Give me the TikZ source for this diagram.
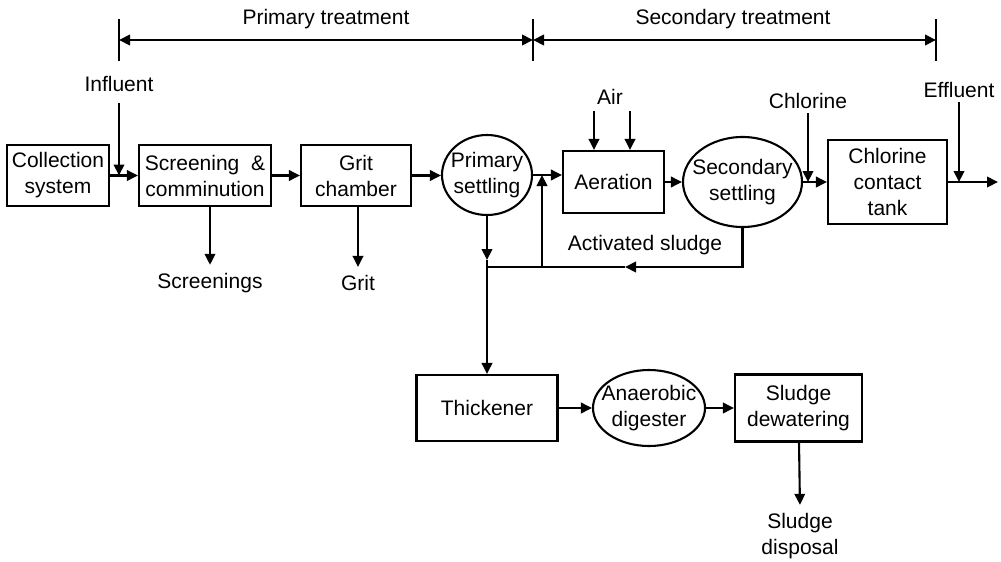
\documentclass[tikz,border=0pt]{standalone}
\usepackage{fontspec}
\setmainfont{Liberation Sans}
\usetikzlibrary{arrows.meta,shapes.geometric}
\begin{document}
\begin{tikzpicture}[x=1pt, y=-1pt, line width=2.1pt, >={Triangle[length=11pt,width=10.5pt]},
        every node/.append style = {font=\fontsize{21}{26}\selectfont},
        main/.style = {draw, rectangle, align=center, inner sep=0pt},
        tank/.style = {draw, ellipse, inner sep=0pt, label={[align=center]center:#1}},
        tag/.style = {align=center}]
    \useasboundingbox (0,0) rectangle (1001,562);
    \node[main, minimum width=102pt, minimum height=61pt] (1) at (58,175.5) {Collection\\system};
    \node[main, minimum width=132pt, minimum height=61pt] (2) at (205,175.5) {Screening\ \ \&\\comminution};
    \node[main, minimum width=110pt, minimum height=61pt] (3) at (356,175.5) {Grit\\chamber};
    \node[tank={Primary\\settling}, minimum width=90pt, minimum height=80pt] (4) at (487,175) {};
    \node[main, minimum width=101pt, minimum height=62pt] (5) at (613.5,182) {Aeration};
    \node[tank={Secondary\\settling}, minimum width=119pt, minimum height=90pt] (6) at (742.5,182) {};
    \node[main, minimum width=119pt, minimum height=84pt] (7) at (887.5,182) {Chlorine\\contact\\tank};
    \node[main, minimum width=141pt, minimum height=66pt] (8) at (487,408) {Thickener};
    \node[tank={Anaerobic\\digester}, minimum width=112pt, minimum height=76pt] (9) at (649,408) {};
    \node[main, minimum width=127pt, minimum height=67pt] (10) at (798.5,408) {Sludge\\dewatering};
    \node[tag] (11) at (119,84) {Influent};
    \node[tag] (12) at (610,97) {Air};
    \node[tag] (13) at (808,101) {Chlorine};
    \node[tag] (14) at (959,90) {Effluent};
    \node[tag] (15) at (210,283) {Screenings};
    \node[tag] (16) at (358,283) {Grit};
    \node[tag] (17) at (645,245) {Activated sludge};
    \node[tag] (18) at (800,536) {Sludge\\disposal};
    \node[tag] (19) at (326,19) {Primary treatment};
    \node[tag] (20) at (733,19) {Secondary treatment};
    \coordinate (d1) at (119,40);
    \coordinate (d2) at (533,40);
    \coordinate (d3) at (936,40);
    \foreach \x in {119,533,936}
        \draw (\x,19) -- (\x,61);
    \draw[<->] (d1) -- (d2);
    \draw[<->] (d2) -- (d3);
    \draw[->] (1) -- (2);
    \draw[->] (2) -- (3);
    \draw[->] (3.east) -- (3.east -| 4.west);
    \draw[->] (4.east) -- (4.east -| 5.west);
    \draw[->] (5) -- (6);
    \draw[->] (6) -- (7);
    \coordinate (out) at (998,182);
    \draw[->] (7) -- (out);
    \draw[->, shorten <=7pt] (11.south) -- (11.south |- 1.east);
    \coordinate (a1) at (594,111);
    \coordinate (a2) at (630,111);
    \draw[->] (a1) -- (a1 |- 5.north);
    \draw[->] (a2) -- (a2 |- 5.north);
    \draw[->] (13.south) -- (13.south |- 6.east);
    \draw[->] (14.south) -- (14.south |- 7.east);
    \draw[->, shorten >=4pt] (2.south -| 15.north) -- (15.north);
    \draw[->, shorten >=4pt] (3.south -| 16.north) -- (16.north);
    \coordinate (j1) at (487,267);
    \coordinate (j2) at (542,267);
    \coordinate (m1) at (487,260);
    \coordinate (m2) at (625,267);
    \draw[->] (4) -- (m1);
    \draw[->] (m1) -- (8);
    \draw[->] (6.south) |- (m2);
    \draw (m2) -- (j1);
    \draw[->] (j2) -- (j2 |- 4.east);
    \draw[->] (8) -- (9);
    \draw[->] (9) -- (10);
    \draw[->, shorten >=4pt] (10) -- (18.north);
\end{tikzpicture}
\end{document}
